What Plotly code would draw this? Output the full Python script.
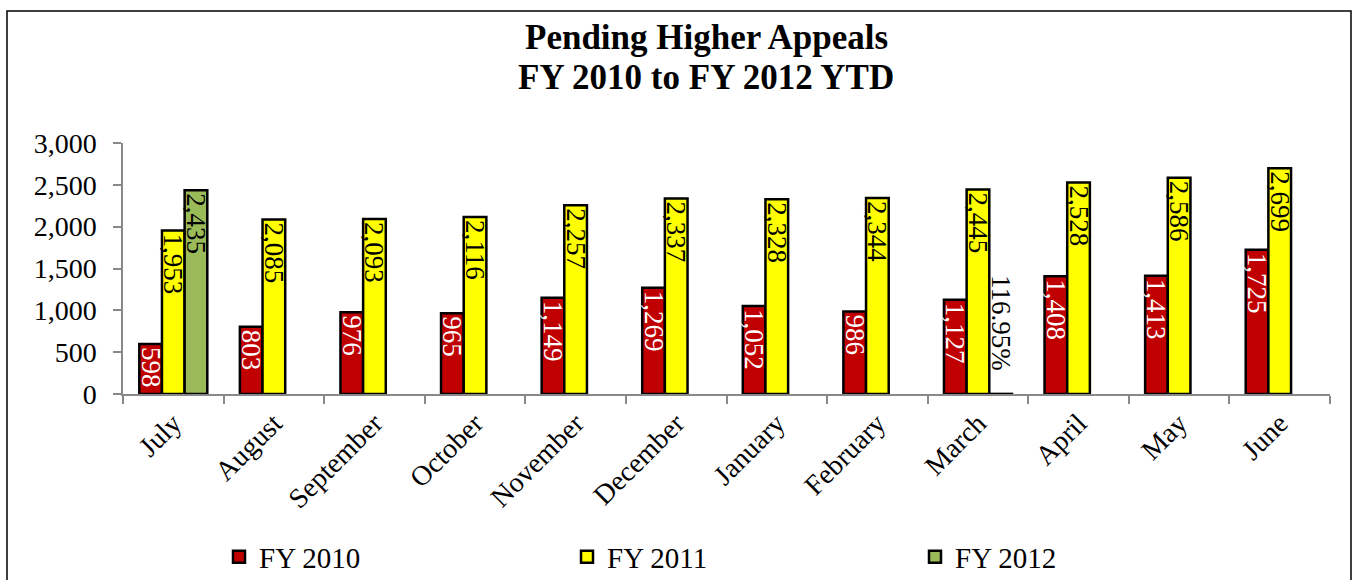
import plotly.graph_objects as go

months = ["July", "August", "September", "October", "November", "December",
          "January", "February", "March", "April", "May", "June"]
fy2010 = [598, 803, 976, 965, 1149, 1269, 1052, 986, 1127, 1408, 1413, 1725]
fy2011 = [1953, 2085, 2093, 2116, 2257, 2337, 2328, 2344, 2445, 2528, 2586, 2699]
fy2012 = [2435, None, None, None, None, None, None, None, 1.1695, None, None, None]
fy2012_labels = ["2,435", "", "", "", "", "", "", "", "116.95%\u00a0\u00a0\u00a0", "", "", ""]
y_ticks = [0, 500, 1000, 1500, 2000, 2500, 3000]

FONT = "Liberation Serif, Times New Roman, serif"
W, H = 1356, 580
L, R, T, B = 123, 26, 143, 186
pw = W - L - R
ph = H - T - B


def px_x(x):  # screen px -> paper
    return (x - L) / pw


def px_y(y):
    return ((H - B) - y) / ph


LBL = 27

fig = go.Figure()
fig.add_trace(go.Bar(
    name="FY 2010", x=months, y=fy2010,
    marker=dict(color="#C00000", line=dict(color="black", width=2.5)),
    text=[f"{v:,}" for v in fy2010], textposition="inside", insidetextanchor="end",
    textangle=90, constraintext="none",
    insidetextfont=dict(family=FONT, size=LBL, color="white"),
))
fig.add_trace(go.Bar(
    name="FY 2011", x=months, y=fy2011,
    marker=dict(color="#FFFF00", line=dict(color="black", width=2.5)),
    text=[f"{v:,}" for v in fy2011], textposition="inside", insidetextanchor="end",
    textangle=90, constraintext="none",
    insidetextfont=dict(family=FONT, size=LBL, color="black"),
))
fig.add_trace(go.Bar(
    name="FY 2012", x=months, y=fy2012,
    marker=dict(color="#9BBB59", line=dict(color="black", width=2.5)),
    text=fy2012_labels,
    textposition=["inside" if i == 0 else "outside" for i in range(12)],
    insidetextanchor="end", textangle=90, constraintext="none",
    insidetextfont=dict(family=FONT, size=LBL, color="black"),
    outsidetextfont=dict(family=FONT, size=LBL, color="black"),
    cliponaxis=False,
))

# outer chart border
fig.add_shape(type="rect", xref="paper", yref="paper",
              x0=px_x(7), x1=px_x(1351), y0=px_y(600), y1=px_y(11),
              line=dict(color="black", width=1.5), layer="below")

for txt, yc in (("Pending Higher Appeals", 38), ("FY 2010 to FY 2012 YTD", 77)):
    fig.add_annotation(
        text=f"<b>{txt}</b>",
        xref="paper", yref="paper", x=px_x(706), y=px_y(yc),
        xanchor="center", yanchor="middle", showarrow=False,
        font=dict(family=FONT, size=35, color="black"),
    )

fig.update_layout(
    width=W, height=H,
    margin=dict(l=L, r=R, t=T, b=B, autoexpand=False),
    paper_bgcolor="white", plot_bgcolor="white",
    barmode="group", bargap=0.324, bargroupgap=0,
    font=dict(family=FONT, color="black"),
    showlegend=True,
    legend=dict(orientation="h", x=px_x(219), xanchor="left",
                y=px_y(557), yanchor="middle",
                entrywidth=303, entrywidthmode="pixels",
                font=dict(family=FONT, size=29, color="black"),
                bgcolor="rgba(0,0,0,0)"),
    xaxis=dict(showline=True, linecolor="#898989", linewidth=1.5,
               ticks="outside", tickson="boundaries", ticklen=8,
               tickcolor="#898989", tickwidth=1.5,
               tickangle=-45, tickfont=dict(family=FONT, size=28, color="black"),
               showgrid=False),
    yaxis=dict(range=[0, 3000], tickvals=y_ticks, tickformat=",",
               showline=True, linecolor="#898989", linewidth=1.5,
               ticks="outside", ticklen=8, tickcolor="#898989", tickwidth=1.5,
               ticklabelstandoff=11,
               tickfont=dict(family=FONT, size=28, color="black"),
               showgrid=False, zeroline=False),
)

fig.write_html(
    "out.html",
    config={"displayModeBar": False},
    post_script="document.body.style.margin='0';document.body.style.overflow='hidden';",
)
